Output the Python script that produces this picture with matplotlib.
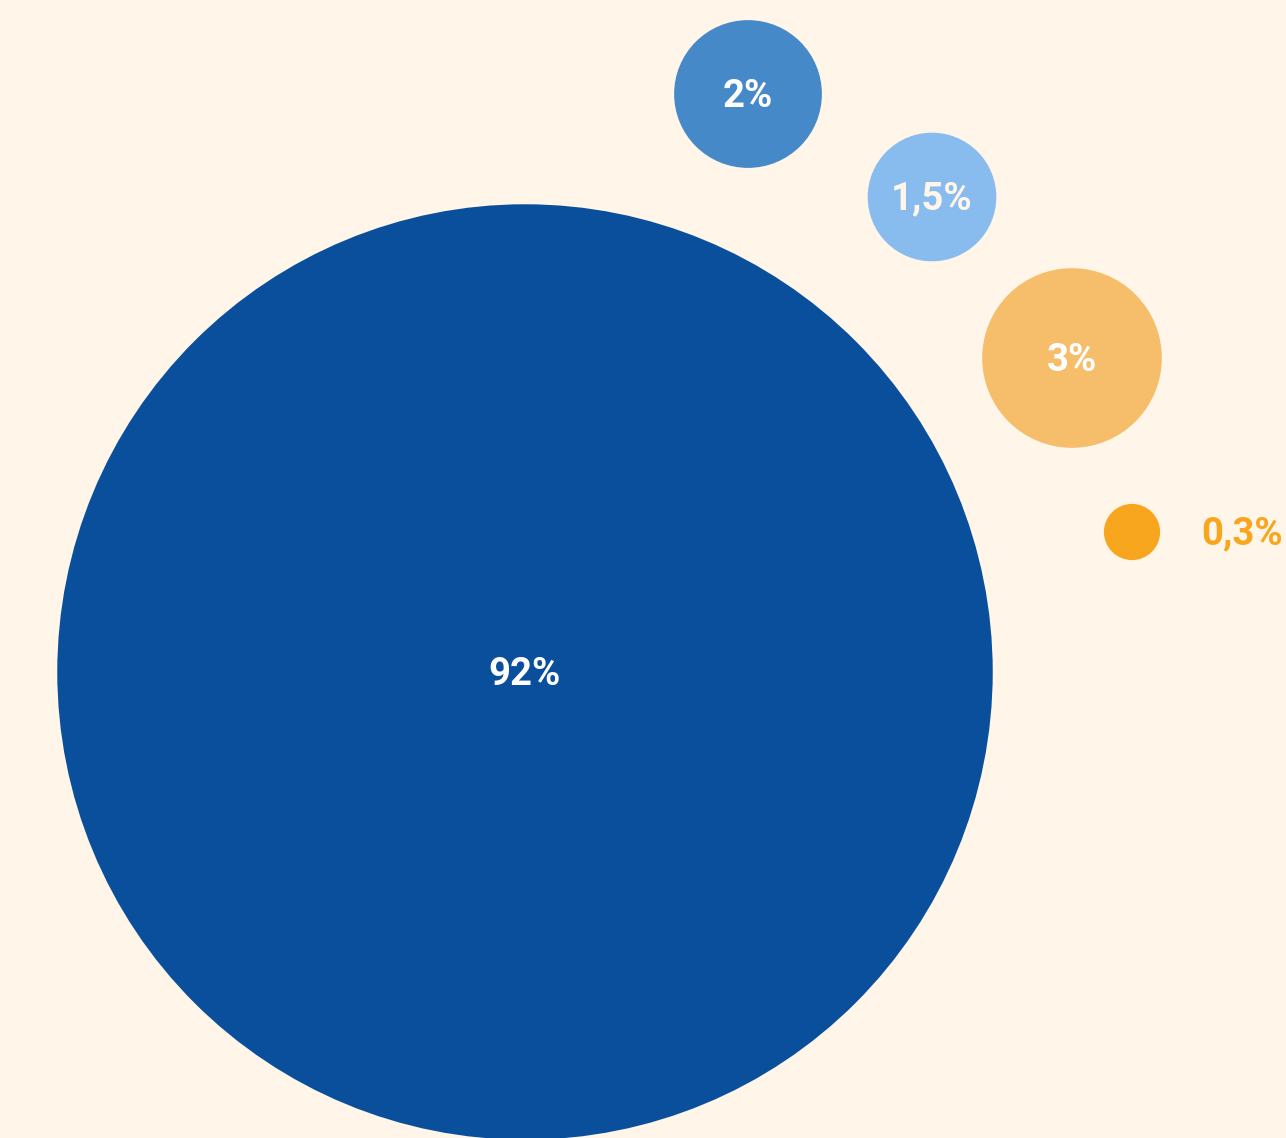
import matplotlib.pyplot as plt
from matplotlib.patches import Circle

# valores (%)
labels = ['92%', '2%', '1,5%', '3%', '0,3%']
values = [92, 2, 1.5, 3, 0.3]
colors = ['#0A4F9C', '#4589C8', '#89BCEE', '#F6BE6B', '#F9A61F']
text_colors = ['#FFFFFF', '#FFFFFF', '#FFF6E9', '#FFFFFF', '#F9A61F']

# posicao dos centros (layout em pixels)
cx = [525, 748, 932, 1072, 1132]
cy = [672, 94, 197, 358, 532]
escala = 52.9   # raio = escala * valor**expoente
expoente = 0.482

bg = '#FFF6E9'
fig = plt.figure(figsize=(12.86, 11.38), dpi=100, facecolor=bg)
ax = fig.add_axes([0, 0, 1, 1])
ax.set_facecolor(bg)
ax.set_xlim(0, 1286)
ax.set_ylim(1138, 0)
ax.set_aspect('equal')
ax.axis('off')

for i in range(len(values)):
    r = escala * values[i] ** expoente
    if values[i] < 1:
        r = r - 1.5
    ax.add_patch(Circle((cx[i], cy[i]), r, color=colors[i], lw=0))
    if values[i] < 1:
        # bolha pequena: rotulo ao lado
        ax.text(cx[i] + r + 41, cy[i] + 2, labels[i], color=text_colors[i],
                fontsize=27.5, fontweight='bold', family='Roboto',
                ha='left', va='center')
    else:
        ax.text(cx[i], cy[i] + 2, labels[i], color=text_colors[i],
                fontsize=27.5, fontweight='bold', family='Roboto',
                ha='center', va='center')

fig.savefig('out.png', dpi=100, facecolor=bg)
